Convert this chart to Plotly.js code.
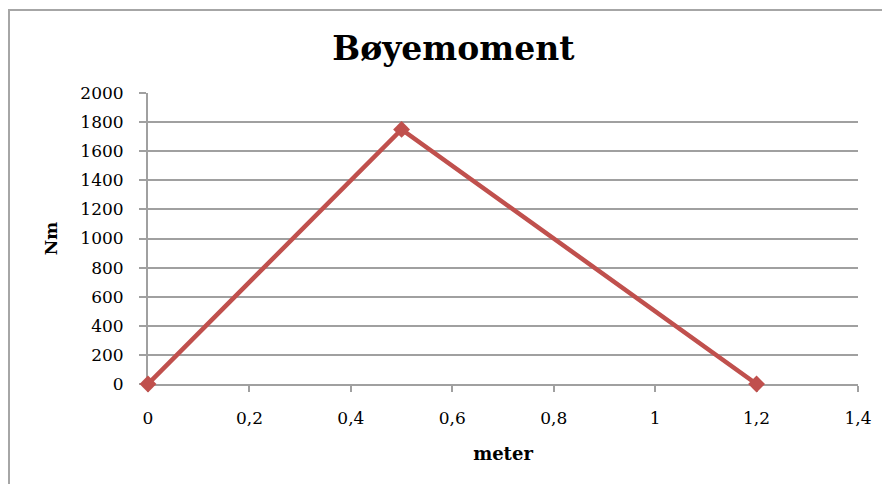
<!DOCTYPE html>
<html>
<head>
<meta charset="utf-8">
<script src="https://cdn.plot.ly/plotly-3.0.1.min.js"></script>
<style>
html,body{margin:0;padding:0;background:#fff;overflow:hidden;width:882px;height:484px;}
#frame{position:absolute;left:8px;top:9px;width:1000px;height:1000px;border:2px solid #a6a6a6;pointer-events:none;}
#chart{position:absolute;left:0;top:0;width:882px;height:484px;}
</style>
</head>
<body>
<div id="frame"></div>
<div id="chart"></div>
<script>
const xMeter = [0, 0.5, 1.2];
const yNm = [0, 1750, 0];
const xTickVals = [0, 0.2, 0.4, 0.6, 0.8, 1, 1.2, 1.4];
const xTickText = ['0', '0,2', '0,4', '0,6', '0,8', '1', '1,2', '1,4'];
const yTickVals = [0, 200, 400, 600, 800, 1000, 1200, 1400, 1600, 1800, 2000];

const serif = 'DejaVu Serif, Liberation Serif, serif';

const trace = {
  x: xMeter, y: yNm, type: 'scatter', mode: 'lines+markers',
  line: {color: '#c0504d', width: 4.5},
  marker: {symbol: 'diamond', size: 13, color: '#c0504d'},
  cliponaxis: false,
  showlegend: false, hoverinfo: 'skip'
};

const layout = {
  width: 882, height: 484,
  margin: {l: 148, r: 24, t: 93, b: 100},
  paper_bgcolor: 'rgba(0,0,0,0)', plot_bgcolor: 'rgba(0,0,0,0)',
  title: {text: 'Bøyemoment', font: {family: serif, size: 33, color: '#000', weight: 'bold'},
          x: 0.514, xanchor: 'center', y: 0.9, yanchor: 'middle', yref: 'container'},
  xaxis: {
    range: [0, 1.4], tickvals: xTickVals, ticktext: xTickText,
    showgrid: false, zeroline: false, showline: true, linecolor: '#a0a0a0', linewidth: 2,
    ticks: 'outside', ticklen: 6, tickwidth: 2, tickcolor: '#a0a0a0',
    ticklabelstandoff: 12, layer: 'below traces',
    tickfont: {family: serif, size: 17, color: '#000'},
    title: {text: 'meter', font: {family: serif, size: 18, color: '#000', weight: 'bold'}, standoff: 20}
  },
  yaxis: {
    range: [0, 2000], tickvals: yTickVals,
    showgrid: true, gridcolor: '#a0a0a0', gridwidth: 2,
    zeroline: false, showline: true, linecolor: '#a0a0a0', linewidth: 2,
    ticks: 'outside', ticklen: 7, tickwidth: 2, tickcolor: '#a0a0a0',
    ticklabelstandoff: 12, layer: 'below traces',
    tickfont: {family: serif, size: 17, color: '#000'},
    title: {text: 'Nm', font: {family: serif, size: 17, color: '#000', weight: 'bold'}, standoff: 18}
  }
};

Plotly.newPlot('chart', [trace], layout, {staticPlot: true, displayModeBar: false});
</script>
</body>
</html>
